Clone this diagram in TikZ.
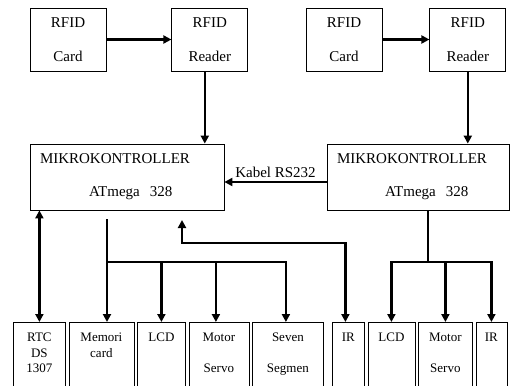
\documentclass[tikz,border=0pt]{standalone}
\usepackage{fontspec}
\setmainfont{Liberation Serif}
\usetikzlibrary{arrows.meta,positioning}

\begin{document}
\begin{tikzpicture}[x=1pt,y=-1pt,node distance=2.7pt,>={Triangle[length=8pt,width=8pt]},
  rfid/.style={draw,line width=0.8pt,align=center,minimum width=76pt,minimum height=63pt,inner sep=0pt,font=\fontsize{15}{34}\selectfont},
  mcu/.style={draw,line width=0.8pt,align=left,minimum height=66pt,inner xsep=10pt,inner ysep=0pt,font=\fontsize{15}{33}\selectfont},
  dev/.style={draw,line width=0.8pt,minimum height=66pt,inner sep=0pt},
  devtext/.style={anchor=north,yshift=-11pt,align=center,inner sep=0pt,font=\fontsize{13}{15.5}\selectfont},
  link/.style={line width=2.6pt}]
\clip (0,0) rectangle (510,385);
% RFID
\node[rfid] (card1) at (68,39.5) {RFID\\Card};
\node[rfid,right=65pt of card1] (reader1) {RFID\\Reader};
\node[rfid] (card2) at (344,39.5) {RFID\\Card};
\node[rfid,right=47pt of card2] (reader2) {RFID\\Reader};
% mikrokontroller
\node[mcu,text width=174pt] (mk1) at (127,177) {MIKROKONTROLLER\\\hspace*{49pt}ATmega\ \ 328};
\node[mcu,text width=162pt] (mk2) at (418,177) {MIKROKONTROLLER\\\hspace*{48pt}ATmega\ \ 328};
% output
\node[dev,minimum width=52pt,anchor=north west,label={[devtext]north:{RTC\\DS\\1307}}] (rtc) at (13,322) {};
\node[dev,minimum width=65pt,right=of rtc,label={[devtext]north:{Memori\\card}}] (memori) {};
\node[dev,minimum width=48pt,right=of memori,label={[devtext]north:LCD}] (lcd1) {};
\node[dev,minimum width=60pt,right=of lcd1,label={[devtext]north:{Motor\\[15pt]Servo}}] (motor1) {};
\node[dev,minimum width=71pt,right=of motor1,label={[devtext]north:{Seven\\[15pt]Segmen}}] (seven) {};
\node[dev,minimum width=32pt,right=8.2pt of seven,label={[devtext]north:IR}] (ir1) {};
\node[dev,minimum width=47pt,right=of ir1,label={[devtext]north:LCD}] (lcd2) {};
\node[dev,minimum width=54pt,right=of lcd2,label={[devtext]north:{Motor\\[15pt]Servo}}] (motor2) {};
\node[dev,minimum width=31pt,right=of motor2,label={[devtext]north:IR}] (ir2) {};
% jalur
\draw[link,->] (card1) -- (reader1);
\draw[link,->] (card2) -- (reader2);
\draw[link,->] ([xshift=-5pt]reader1.south) -- ([xshift=-5pt]reader1.south |- mk1.north);
\draw[link,->] (reader2.south) -- (reader2.south |- mk2.north);
\draw[link,->] ([yshift=-5pt]mk2.west) -- node[above,font=\fontsize{15}{18}\selectfont]{Kabel RS232} ([yshift=-5pt]mk2.west -| mk1.east);
\draw[link,<->] (rtc.north) -- (rtc.north |- mk1.south);
\coordinate (memtop) at (107,219);
\coordinate (bus1) at (107,262);
\draw[link,->] (memtop) -- (memtop |- memori.north);
\draw[link,->] (bus1) -| ([xshift=-2pt]seven.north);
\draw[link,->] (bus1 -| lcd1.north) -- (lcd1.north);
\draw[link,->] ([xshift=-3pt]motor1.north |- bus1) -- ([xshift=-3pt]motor1.north);
\coordinate (irin) at (182,220);
\draw[link,<->] (irin) -- ++(0,23) -| ([xshift=-3pt]ir1.north);
\coordinate (bus2) at (428,262);
\draw[link] (bus2 |- mk2.south) -- (bus2);
\draw[link,->] (bus2) -| (lcd2.north);
\draw[link,->] (bus2) -| (ir2.north);
\draw[link,->] (bus2 -| motor2.north) -- (motor2.north);
\end{tikzpicture}
\end{document}
